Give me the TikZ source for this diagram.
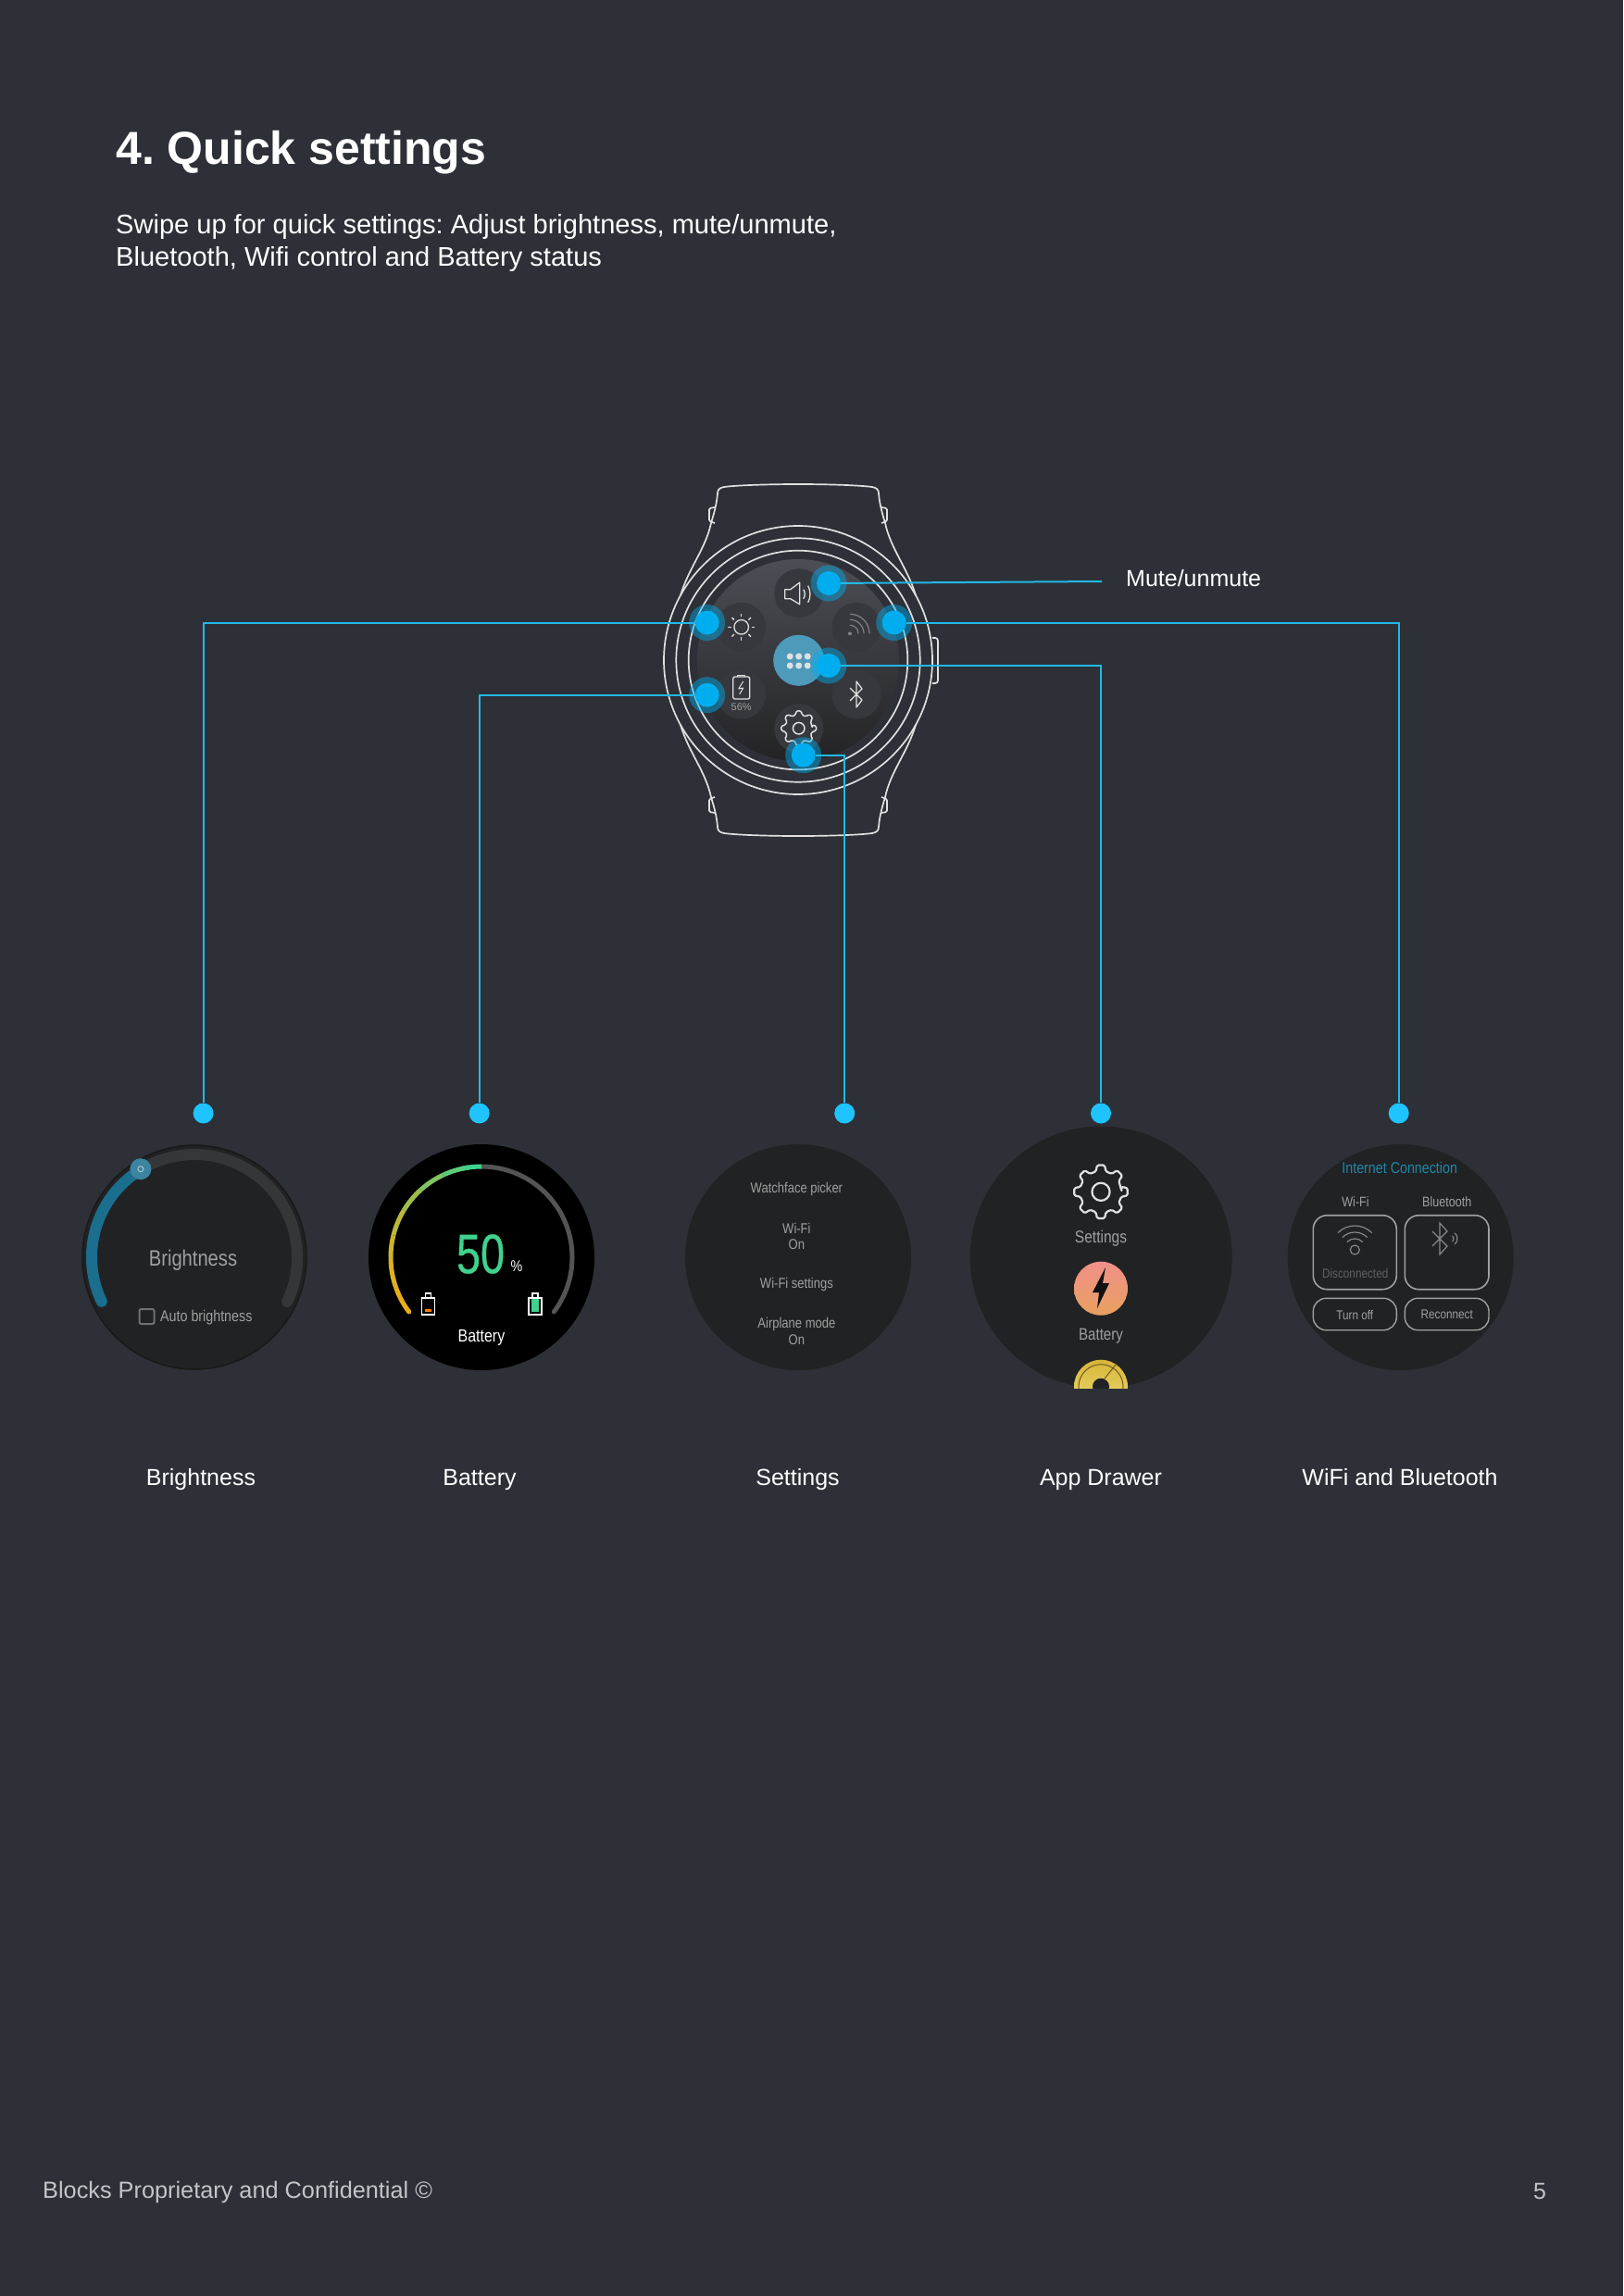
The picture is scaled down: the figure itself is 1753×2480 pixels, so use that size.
\documentclass[tikz,border=0pt]{standalone}
\usepackage{fontspec}
\setmainfont{Liberation Sans}
\newfontfamily\screenfont[FakeStretch=0.84]{Liberation Sans}
\newfontfamily\digitfont[FakeStretch=0.78,FakeBold=0.5]{Liberation Sans}
\usetikzlibrary{positioning}
\definecolor{pagebg}{HTML}{2D3036}
\definecolor{linkblue}{HTML}{22B8E8}
\definecolor{enddot}{HTML}{1EC3FF}
\definecolor{bigblue}{HTML}{00AEEF}
\definecolor{facebg}{HTML}{212223}
\definecolor{iconbg}{HTML}{37383D}
\definecolor{appsblue}{HTML}{4E9ABB}
\definecolor{ringgrey}{HTML}{E0E0E0}
\definecolor{dimtext}{HTML}{A0A0A0}
\definecolor{arcyellow}{HTML}{E8AE1A}
\definecolor{arcgreen}{HTML}{3FD28E}
\definecolor{dialblue}{HTML}{1A6E8E}
\tikzset{
  face/.style={circle,fill=facebg,minimum size=244pt,inner sep=0pt},
  icondisc/.style={circle,fill=iconbg,minimum size=53pt,inner sep=0pt},
  bighalo/.style={circle,fill=bigblue,fill opacity=.45,minimum size=39pt,inner sep=0pt},
  bigdot/.style={circle,fill=bigblue,minimum size=26pt,inner sep=0pt},
  enddotn/.style={circle,fill=enddot,minimum size=22pt,inner sep=0pt},
  link/.style={linkblue,line width=2pt},
  caption/.style={text=white,font=\fontsize{25}{30}\selectfont,inner sep=0pt,anchor=base},
  shot/.style={text=dimtext,inner sep=0pt},
  ring/.style={ringgrey,line width=1.7pt},
  iconline/.style={draw=ringgrey,line width=1.3pt,line join=round},
  gearicon/.pic={
    \draw[iconline,line width=#1,rounded corners=1.5pt] (0:.78) \foreach \a in {0,45,...,315} {
      -- (\a-14:.78) -- (\a-8:1) -- (\a+8:1) -- (\a+14:.78)} -- cycle;
    \draw[iconline,line width=#1] (0,0) circle (.33);
  }
}
\begin{document}
\frenchspacing
\begin{tikzpicture}[x=1pt,y=-1pt]
  \useasboundingbox (0,0) rectangle (1753,2480);
  \fill[pagebg] (0,0) rectangle (1753,2480);
  % heading
  \node[anchor=west,text=white,inner sep=0pt,font=\fontsize{50}{60}\selectfont\bfseries] (title) at (125,165) {4. Quick settings};
  \node[anchor=north west,text=white,inner sep=0pt,align=left,font=\fontsize{29.05}{35}\selectfont] (intro) at (125,231)
    {Swipe up for quick settings: Adjust brightness, mute/unmute,\\Bluetooth, Wifi control and Battery status};
  % watch
  \coordinate (watch) at (862,713);
  \foreach \sx/\sy in {1/1,-1/1,1/-1,-1/-1} {
    \begin{scope}[shift={(watch)},xscale=\sx,yscale=\sy]
      \draw[ring] (0,-190) .. controls (-30,-190) and (-65,-189) .. (-80,-187)
        .. controls (-85,-186) and (-87,-184) .. (-87,-180)
        .. controls (-88,-168) and (-91,-158) .. (-94,-148)
        .. controls (-100,-120) and (-118,-100) .. (-127,-70);
      \draw[ring,rounded corners=1.5pt] (-90,-148) -- (-96,-150) -- (-96,-164) -- (-90,-165);
    \end{scope}
  }
  \draw[ring,rounded corners=3pt] (1007,689) -- (1013,689) -- (1013,738) -- (1007,738);
  \foreach \r in {145,131.7,118.3} \draw[ring] (watch) circle (\r);
  \node[circle,top color={rgb,255:red,76;green,78;blue,85},bottom color={rgb,255:red,35;green,35;blue,37},minimum size=218pt,inner sep=0pt] (screen) at (watch) {};
  \node[icondisc] (volume) at (862.7,640.7) {};
  \node[icondisc] (bright) at (800.7,677.3) {};
  \node[icondisc] (wifi) at (925,677.3) {};
  \node[icondisc] (battery) at (800.7,750) {};
  \node[icondisc] (bluetooth) at (925,750) {};
  \node[icondisc] (gear) at (862.7,786.7) {};
  \node[icondisc,fill=appsblue,minimum size=55pt] (apps) at (862.7,713.3) {};
  % icons on the watch
  \draw[iconline,shift={(volume)}] (-15,-4) -- (-9,-4) -- (1,-11.5) -- (1,12) -- (-9,6) -- (-15,6) -- cycle;
  \draw[iconline,shift={(volume)}] (5,-4) .. controls (7,-1) and (7,3) .. (5,6);
  \draw[iconline,shift={(volume)}] (10,-8) .. controls (13,-3) and (13,5) .. (10,10);
  \draw[iconline,shift={(bright)}] (0,0) circle (7.8);
  \foreach \a in {0,45,...,315} \draw[iconline,shift={(bright)}] (\a:11) -- (\a:14.5);
  \fill[black!50!white,shift={(wifi)}] (-7,7) circle (2);
  \foreach \r in {9,15,21} \draw[black!50!white,line width=1.2pt,shift={(wifi)}] ({-7+\r},7) arc[start angle=0,end angle=90,radius=\r pt];
  \foreach \x in {-9.5,0,9.5} \foreach \y in {-4.3,5.7} \fill[ringgrey,shift={(apps)}] (\x,\y) circle (3.5);
  \draw[iconline,rounded corners=2pt,shift={(battery)}] (-9,-19) rectangle (9,5);
  \draw[iconline,shift={(battery)}] (-4,-19) -- (-4,-20.5) -- (4,-20.5) -- (4,-19);
  \draw[iconline,line width=1pt,shift={(battery)}] (2,-14) -- (-3,-6) -- (2,-7) -- (-2,0);
  \node[text=dimtext,inner sep=0pt,font=\fontsize{11}{12}\selectfont] (batterypct) at (800.7,764) {56\%};
  \draw[iconline,shift={(bluetooth)}] (-7,-7) -- (6,6) -- (0,14) -- (0,-14) -- (6,-6) -- (-7,7);
  \pic[scale=19] (gearsmall) at (gear) {gearicon={1.5pt}};
  % blue dots on the watch
  \foreach \n/\x/\y in {mutedot/895/630,brightdot/763.7/672.5,wifidot/965.7/672.5,appsdot/895/719,batterydot/763.7/750.7,settingsdot/867.7/815.7} {
    \node[bighalo] (\n halo) at (\x,\y) {};
    \node[bigdot] (\n) at (\x,\y) {};
  }
  % end dots
  \node[enddotn] (brightend) at (219.6,1202.5) {};
  \node[enddotn] (batteryend) at (517.7,1202.5) {};
  \node[enddotn] (settingsend) at (912.2,1202.5) {};
  \node[enddotn] (appsend) at (1189,1202.5) {};
  \node[enddotn] (wifiend) at (1510.7,1202.5) {};
  \coordinate (mutefree) at (1190,628);
  \draw[link] (mutedot) -- (mutefree);
  \draw[link] (brightdot) -| (brightend);
  \draw[link] (batterydot) -| (batteryend);
  \draw[link] (settingsdot) -| (settingsend);
  \draw[link] (appsdot) -| (appsend);
  \draw[link] (wifidot) -| (wifiend);
  \node[caption,anchor=base west] (mutelabel) at (1216,633) {Mute/unmute};
  % brightness screen
  \node[face,draw=black!25!facebg,line width=1.5pt,minimum size=242pt] (brightface) at (210,1358) {};
  \draw[line width=12pt,line cap=round,color=white!9!facebg] (brightface.center) ++(-25.5:111pt) arc[start angle=-25.5,end angle=121.4,radius=111pt];
  \draw[line width=12pt,line cap=round,color=dialblue] (brightface.center) ++(205.5:111pt) arc[start angle=205.5,end angle=121.4,radius=111pt];
  \node[circle,fill=dialblue!85!white,minimum size=23pt,inner sep=0pt] (brightknob) at (151.9,1262.7) {};
  \draw[white!60!dialblue,line width=1pt] (brightknob) circle (3);
  \node[shot,font=\screenfont\fontsize{24}{28}\selectfont] (brightname) at (208.5,1360.8) {Brightness};
  \draw[dimtext!70!black,line width=2pt,rounded corners=2pt] (150.5,1414) rectangle (166.5,1430);
  \node[shot,anchor=west,font=\screenfont\fontsize{17}{20}\selectfont] (autoname) at (173,1422.7) {Auto brightness};
  % battery screen
  \node[face,fill=black] (batteryface) at (520,1358) {};
  \draw[line width=5pt,line cap=round,color=black!67!white] (batteryface.center) ++(-37:98pt) arc[start angle=-37,end angle=90,radius=98pt];
  \foreach \a/\mix in {217/0,200/6,183/14,166/28,149/45,132/62,115/82,102/100} {
    \pgfmathsetmacro{\b}{max(\a-17,90)}
    \draw[line width=5pt,color={arcgreen!\mix!arcyellow}] (batteryface.center) ++(\a:98pt) arc[start angle=\a,end angle=\b,radius=98pt];
  }
  \fill[arcyellow] (batteryface.center) ++(217:98pt) circle (2.5);
  \node[inner sep=0pt,text=arcgreen,font=\digitfont\fontsize{60}{60}\selectfont] (fifty) at (519,1354.5) {50};
  \node[inner sep=0pt,text=white,font=\screenfont\fontsize{17}{20}\selectfont] (percent) at (558,1368) {\%};
  \node[inner sep=0pt,text=white,font=\screenfont\fontsize{19}{22}\selectfont] (batteryname) at (520,1444.5) {Battery};
  \foreach \x in {462.5,578} {
    \draw[white,line width=1.5pt] (\x-7,1402) rectangle (\x+7,1420);
    \draw[white,line width=1.5pt] (\x-3,1402) -- (\x-3,1397) -- (\x+3,1397) -- (\x+3,1402);
  }
  \fill[orange] (459,1414) rectangle (466,1417.3);
  \fill[arcgreen] (574,1403) rectangle (582,1417.3);
  % settings screen
  \node[face] (settingsface) at (862,1358) {};
  \node[shot,font=\screenfont\fontsize{15.5}{18}\selectfont] (watchface) at (860.4,1284) {Watchface picker};
  \node[shot,font=\screenfont\fontsize{15.5}{18}\selectfont] (wifirow) at (860.4,1326.7) {Wi-Fi};
  \node[shot,font=\screenfont\fontsize{15.5}{18}\selectfont] (wifion) at (860.4,1344) {On};
  \node[shot,font=\screenfont\fontsize{15.5}{18}\selectfont] (wifiset) at (860.4,1387.3) {Wi-Fi settings};
  \node[shot,font=\screenfont\fontsize{15.5}{18}\selectfont] (airplane) at (860.4,1430) {Airplane mode};
  \node[shot,font=\screenfont\fontsize{15.5}{18}\selectfont] (airon) at (860.4,1446.7) {On};
  % app drawer screen
  \node[face,minimum size=283pt] (appsface) at (1189.2,1358) {};
  \pic[scale=29] (gearbig) at (1189,1287.3) {gearicon={2.2pt}};
  \node[shot,font=\screenfont\fontsize{18.5}{22}\selectfont] (appsettings) at (1189,1338.2) {Settings};
  \node[circle,top color={rgb,255:red,240;green,144;blue,136},bottom color={rgb,255:red,232;green,160;blue,96},minimum size=58pt,inner sep=0pt] (appbattery) at (1189,1391.7) {};
  \fill[facebg!50!black] (1194,1369) -- (1180,1396) -- (1187,1396) -- (1185,1413) -- (1198,1386) -- (1191,1386) -- cycle;
  \node[shot,font=\screenfont\fontsize{18}{22}\selectfont] (appbatteryname) at (1189,1443.5) {Battery};
  \begin{scope}
    \clip (1150,1460) rectangle (1230,1499.3);
    \node[circle,top color={rgb,255:red,216;green,180;blue,56},bottom color={rgb,255:red,236;green,224;blue,120},minimum size=58pt,inner sep=0pt] (appyellow) at (1189,1497.7) {};
    \draw[facebg!60!arcyellow,line width=1pt] (1189,1497.7) circle (24);
    \draw[facebg!60!arcyellow,line width=1pt] (1193,1489) -- (1205,1474);
    \fill[facebg] (1189,1497.7) circle (9);
  \end{scope}
  % wifi and bluetooth screen
  \node[face] (wififace) at (1512.7,1358) {};
  \node[shot,text={rgb,255:red,30;green,136;blue,168},font=\screenfont\fontsize{17}{20}\selectfont] (internet) at (1511.7,1261.7) {Internet Connection};
  \node[shot,font=\screenfont\fontsize{15}{18}\selectfont] (wifititle) at (1464,1298.3) {Wi-Fi};
  \node[shot,font=\screenfont\fontsize{15}{18}\selectfont] (bttitle) at (1562.7,1298.3) {Bluetooth};
  \draw[dimtext,line width=1.6pt,rounded corners=15pt] (1418.3,1312.7) rectangle (1508.3,1392.7);
  \draw[dimtext,line width=1.6pt,rounded corners=15pt] (1517.3,1312.7) rectangle (1608,1392.7);
  \draw[dimtext,line width=1.4pt,rounded corners=14pt] (1418.3,1402.3) rectangle (1508.3,1436.7);
  \draw[dimtext,line width=1.4pt,rounded corners=14pt] (1517.3,1402.3) rectangle (1608,1436.7);
  \node[shot,font=\screenfont\fontsize{14}{18}\selectfont] (turnoff) at (1463.3,1420) {Turn off};
  \node[shot,font=\screenfont\fontsize{14}{18}\selectfont] (reconnect) at (1562.7,1420) {Reconnect};
  \node[shot,text=dimtext!50!facebg,font=\screenfont\fontsize{14}{18}\selectfont] (disconnected) at (1463.7,1375.7) {Disconnected};
  \draw[dimtext!80!facebg,line width=1.2pt] (1463.3,1350) circle (5);
  \foreach \r in {12,19,26} \draw[dimtext!80!facebg,line width=1.2pt] (1463.3,1350) ++(45:\r pt) arc[start angle=45,end angle=135,radius=\r pt];
  \draw[dimtext!80!facebg,line width=1.2pt] (1547,1330) -- (1563,1346) -- (1555,1355) -- (1555,1321) -- (1563,1330) -- (1547,1346);
  \foreach \r in {4,8} \draw[dimtext!80!facebg,line width=1.2pt] (1566,1338) ++(-50:\r pt) arc[start angle=-50,end angle=50,radius=\r pt];
  % captions
  \node[caption] (capbright) at (217,1604) {Brightness};
  \node[caption] (capbattery) at (518,1604) {Battery};
  \node[caption] (capsettings) at (861.5,1604) {Settings};
  \node[caption] (capapps) at (1189,1604) {App Drawer};
  \node[caption] (capwifi) at (1512,1604) {WiFi and Bluetooth};
  % footer
  \node[anchor=base west,text=white!72!pagebg,inner sep=0pt,font=\fontsize{25.3}{30}\selectfont] (footer) at (46,2374) {Blocks Proprietary and Confidential \textcopyright};
  \node[anchor=base,text=white!72!pagebg,inner sep=0pt,font=\fontsize{25}{30}\selectfont] (pagenum) at (1663,2375) {5};
\end{tikzpicture}
\end{document}
